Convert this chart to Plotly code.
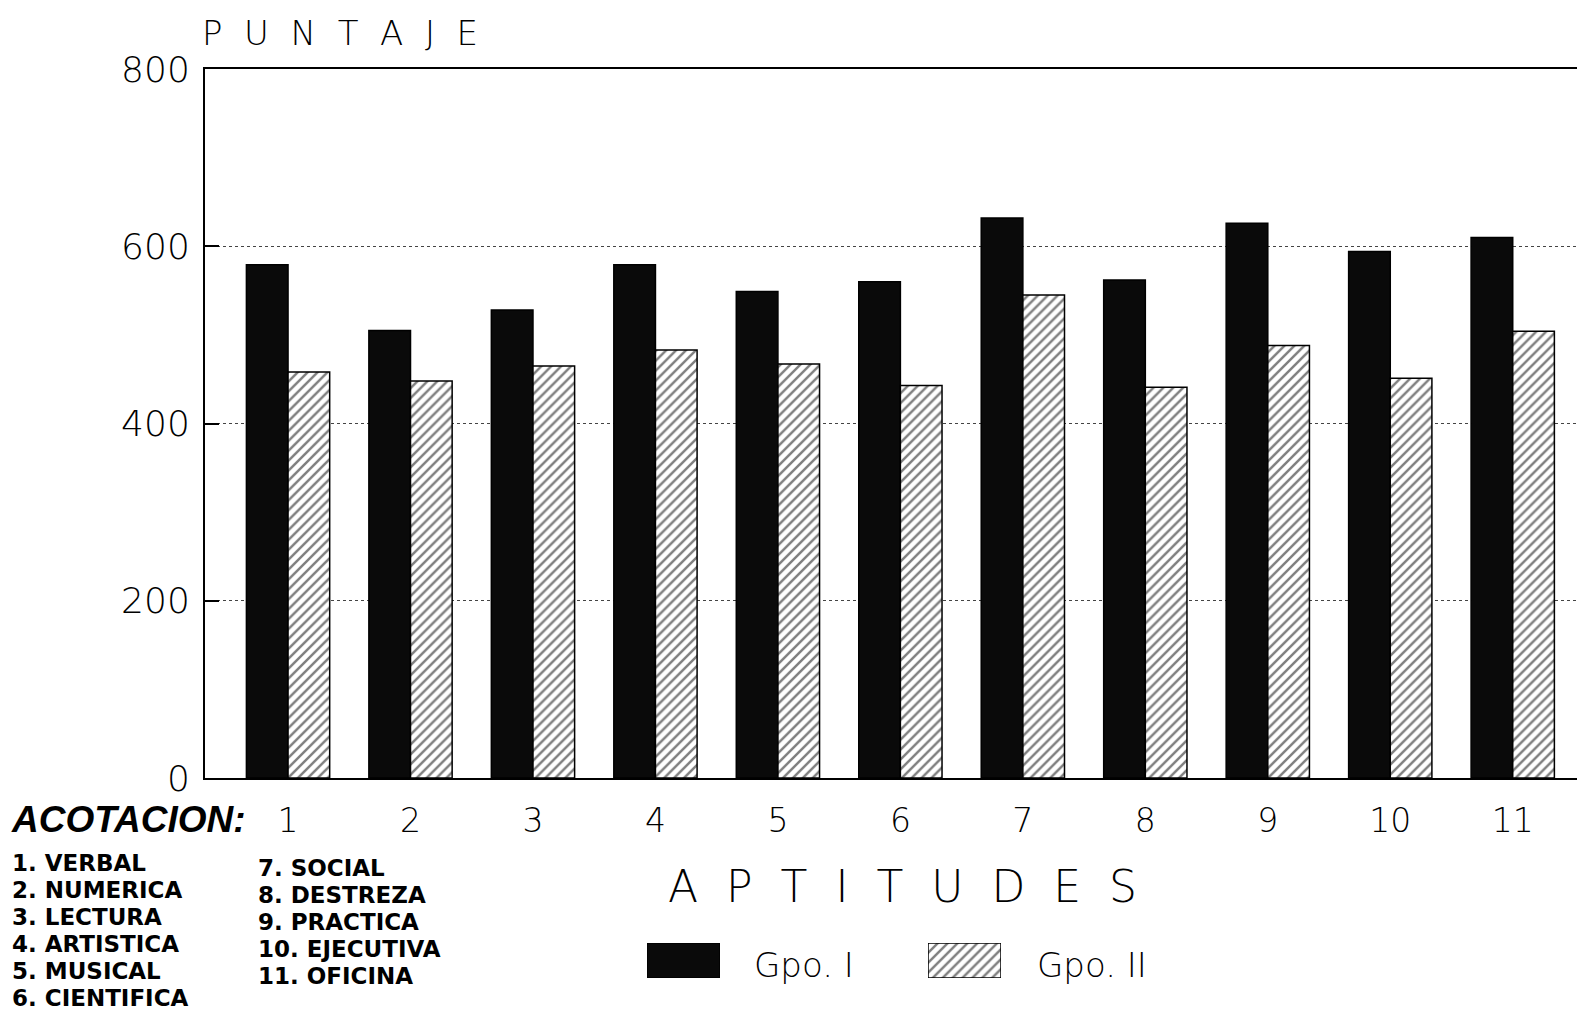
import plotly.graph_objects as go

# data
aptitudes = ["1", "2", "3", "4", "5", "6", "7", "8", "9", "10", "11"]
gpo_1 = [579, 505, 528, 579, 549, 560, 632, 562, 626, 594, 610]
gpo_2 = [458, 448, 465, 483, 467, 443, 545, 441, 488, 451, 504]
y_ticks = [0, 200, 400, 600, 800]
acotacion_1 = ["1. VERBAL", "2. NUMERICA", "3. LECTURA", "4. ARTISTICA", "5. MUSICAL", "6. CIENTIFICA"]
acotacion_2 = ["7. SOCIAL", "8. DESTREZA", "9. PRACTICA", "10. EJECUTIVA", "11. OFICINA"]
series_names = ["Gpo. I", "Gpo. II"]

OFF = 8  # page body margin
W, H = 1585 - 2 * OFF, 1018 - 2 * OFF
FONT = "DejaVu Sans"
FONT_N = "Liberation Sans"


def px(x):
    return (x - OFF) / W


def py(y):
    return 1 - (y - OFF) / H


hatch = dict(shape="/", size=7, solidity=0.35, fgcolor="black", bgcolor="white")

fig = go.Figure()

# main bars
fig.add_trace(go.Bar(
    x=aptitudes, y=gpo_1, name=series_names[0],
    marker=dict(color="#0a0a0a", line=dict(color="black", width=1.5)),
    showlegend=False,
))
fig.add_trace(go.Bar(
    x=aptitudes, y=gpo_2, name=series_names[1],
    marker=dict(color="white", pattern=hatch, line=dict(color="black", width=1.5)),
    showlegend=False,
))

# legend swatches drawn on small hidden axes
fig.add_trace(go.Bar(
    x=[0.5], y=[1], width=[1], xaxis="x2", yaxis="y2",
    marker=dict(color="#0a0a0a", line=dict(color="black", width=1.5)),
    showlegend=False, hoverinfo="skip",
))
fig.add_trace(go.Bar(
    x=[0.5], y=[1], width=[1], xaxis="x3", yaxis="y3",
    marker=dict(color="white", pattern=hatch, line=dict(color="black", width=1.5)),
    showlegend=False, hoverinfo="skip",
))

thin = dict(family=FONT, weight=200)
annotations = [
    dict(text="P  U  N  T  A  J  E", x=px(200), y=py(33), xanchor="left", yanchor="middle",
         font=dict(size=34, **thin)),
    dict(text="A  P  T  I  T  U  D  E  S", x=px(666), y=py(886), xanchor="left", yanchor="middle",
         font=dict(size=44, **thin)),
    dict(text="<b><i>ACOTACION:</i></b>", x=px(9), y=py(819), xanchor="left", yanchor="middle",
         font=dict(size=37, family=FONT_N)),
    dict(text=series_names[0], x=px(752), y=py(965), xanchor="left", yanchor="middle",
         font=dict(size=34, **thin)),
    dict(text=series_names[1], x=px(1035), y=py(965), xanchor="left", yanchor="middle",
         font=dict(size=34, **thin)),
]
for i, t in enumerate(acotacion_1):
    annotations.append(dict(text="<b>" + t + "</b>", x=px(10), y=py(863 + i * 27),
                            xanchor="left", yanchor="middle", font=dict(size=23, family=FONT)))
for i, t in enumerate(acotacion_2):
    annotations.append(dict(text="<b>" + t + "</b>", x=px(256), y=py(868 + i * 27),
                            xanchor="left", yanchor="middle", font=dict(size=23, family=FONT)))
for a in annotations:
    a.update(xref="paper", yref="paper", showarrow=False)

fig.update_layout(
    width=W, height=H,
    margin=dict(l=0, r=0, t=0, b=0),
    paper_bgcolor="white", plot_bgcolor="white",
    font=dict(family=FONT, color="black"),
    barmode="group", bargap=0.32, bargroupgap=0,
    annotations=annotations,
    xaxis=dict(
        domain=[px(205), 1.0], range=[-0.678, 10.59 - OFF / 122.5],
        showline=True, linecolor="black", linewidth=2, mirror=True,
        showgrid=False, ticks="", ticklabelstandoff=12, automargin=False,
        tickfont=dict(size=33, **thin),
    ),
    yaxis=dict(
        domain=[py(778), py(69)], range=[0, 800],
        tickvals=y_ticks, automargin=False,
        showline=True, linecolor="black", linewidth=2,
        ticks="inside", ticklen=14, tickwidth=2, tickcolor="black",
        showgrid=True, gridcolor="#444", gridwidth=1, griddash="dot",
        zeroline=False, ticklabelstandoff=6,
        tickfont=dict(size=36, **thin),
    ),
    xaxis2=dict(domain=[px(647), px(720)], range=[0, 1], visible=False, anchor="y2", automargin=False),
    yaxis2=dict(domain=[py(978), py(943)], range=[0, 1], visible=False, anchor="x2", automargin=False),
    xaxis3=dict(domain=[px(928), px(1001)], range=[0, 1], visible=False, anchor="y3", automargin=False),
    yaxis3=dict(domain=[py(978), py(943)], range=[0, 1], visible=False, anchor="x3", automargin=False),
)

fig.write_html("out.html")
